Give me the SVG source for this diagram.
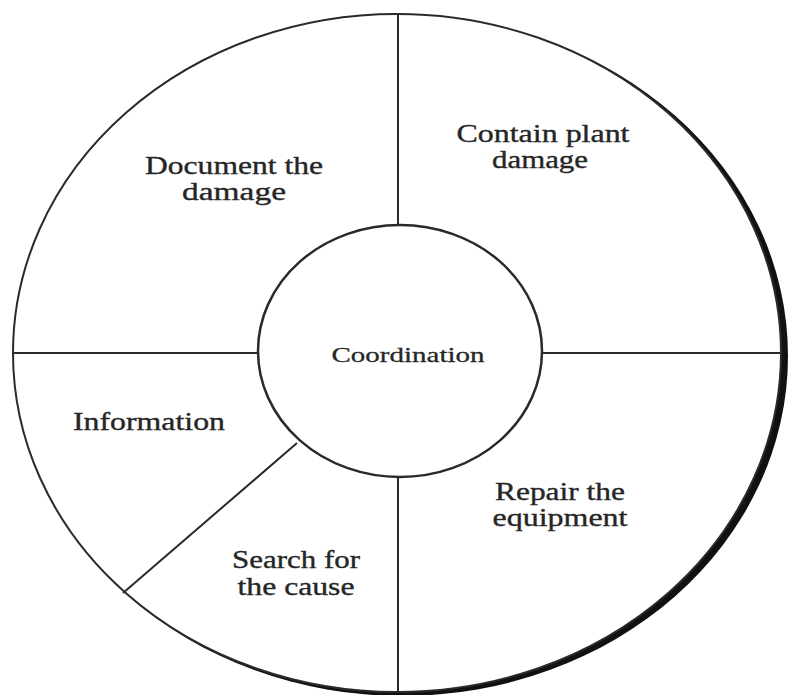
<svg xmlns="http://www.w3.org/2000/svg" width="790" height="695" viewBox="0 0 790 695">
<style>
.lbl{font-family:"Liberation Serif","Times New Roman",serif;font-size:25px;fill:#262626;stroke:#262626;stroke-width:0.35;text-anchor:middle}
.ctr{font-family:"Liberation Serif","Times New Roman",serif;font-size:22px;fill:#262626;stroke:#262626;stroke-width:0.3;text-anchor:middle}
.ln{stroke:#2a2a2a;stroke-width:2;fill:none}
</style>
<rect width="790" height="695" fill="#ffffff"/>
<g id="outer-ring">
<ellipse cx="402" cy="356" rx="386" ry="340" fill="#111111"/>
<ellipse cx="397" cy="353" rx="384" ry="339" fill="#ffffff" stroke="#2a2a2a" stroke-width="2"/>
</g>
<g id="connectors">
<line class="ln" x1="398" y1="14" x2="398" y2="225"/>
<line class="ln" x1="398" y1="477" x2="398" y2="693"/>
<line class="ln" x1="13" y1="353" x2="258" y2="353"/>
<line class="ln" x1="542" y1="353" x2="781" y2="353"/>
<line class="ln" x1="297" y1="443" x2="123" y2="593"/>
</g>
<g id="coordination">
<ellipse cx="400" cy="351" rx="142" ry="126" fill="#ffffff" stroke="#2a2a2a" stroke-width="2.5"/>
<text class="ctr" x="408" y="362" textLength="153" lengthAdjust="spacingAndGlyphs">Coordination</text>
</g>
<g id="document-the-damage">
<text class="lbl" x="234" y="174" textLength="178" lengthAdjust="spacingAndGlyphs">Document the</text>
<text class="lbl" x="234" y="200" textLength="104" lengthAdjust="spacingAndGlyphs">damage</text>
</g>
<g id="contain-plant-damage">
<text class="lbl" x="543" y="142" textLength="173" lengthAdjust="spacingAndGlyphs">Contain plant</text>
<text class="lbl" x="540" y="168" textLength="96" lengthAdjust="spacingAndGlyphs">damage</text>
</g>
<g id="information">
<text class="lbl" x="149" y="430" textLength="152" lengthAdjust="spacingAndGlyphs">Information</text>
</g>
<g id="repair-the-equipment">
<text class="lbl" x="560" y="500" textLength="130" lengthAdjust="spacingAndGlyphs">Repair the</text>
<text class="lbl" x="560" y="526" textLength="135" lengthAdjust="spacingAndGlyphs">equipment</text>
</g>
<g id="search-for-the-cause">
<text class="lbl" x="296" y="568" textLength="128" lengthAdjust="spacingAndGlyphs">Search for</text>
<text class="lbl" x="296" y="595" textLength="117" lengthAdjust="spacingAndGlyphs">the cause</text>
</g>
</svg>
